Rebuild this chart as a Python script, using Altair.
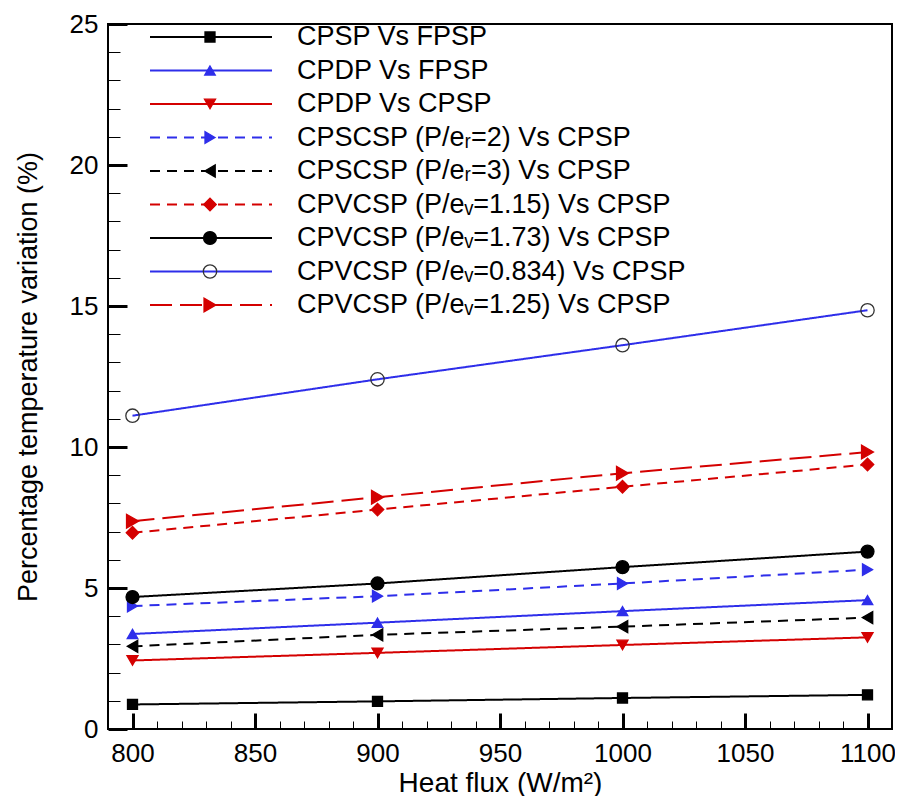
import altair as alt
import pandas as pd

# ---------------- data ----------------
heat_flux = [800, 900, 1000, 1100]

series_names = [
    "CPSP Vs FPSP",
    "CPDP Vs FPSP",
    "CPDP Vs CPSP",
    "CPSCSP (P/eᵣ=2) Vs CPSP",
    "CPSCSP (P/eᵣ=3) Vs CPSP",
    "CPVCSP (P/eᵥ=1.15) Vs CPSP",
    "CPVCSP (P/eᵥ=1.73) Vs CPSP",
    "CPVCSP (P/eᵥ=0.834) Vs CPSP",
    "CPVCSP (P/eᵥ=1.25) Vs CPSP",
]

cpsp_vs_fpsp = [0.87, 0.98, 1.10, 1.21]
cpdp_vs_fpsp = [3.37, 3.77, 4.18, 4.57]
cpdp_vs_cpsp = [2.43, 2.70, 2.98, 3.25]
cpscsp_r2_vs_cpsp = [4.36, 4.71, 5.16, 5.65]
cpscsp_r3_vs_cpsp = [2.93, 3.34, 3.63, 3.95]
cpvcsp_115_vs_cpsp = [6.96, 7.78, 8.59, 9.38]
cpvcsp_173_vs_cpsp = [4.68, 5.16, 5.74, 6.29]
cpvcsp_0834_vs_cpsp = [11.11, 12.40, 13.61, 14.85]
cpvcsp_125_vs_cpsp = [7.37, 8.22, 9.07, 9.82]

all_values = [
    cpsp_vs_fpsp, cpdp_vs_fpsp, cpdp_vs_cpsp, cpscsp_r2_vs_cpsp,
    cpscsp_r3_vs_cpsp, cpvcsp_115_vs_cpsp, cpvcsp_173_vs_cpsp,
    cpvcsp_0834_vs_cpsp, cpvcsp_125_vs_cpsp,
]

y_major = [0, 5, 10, 15, 20, 25]
y_minor = [v for v in range(0, 26) if v % 5 != 0]
x_major = [800, 850, 900, 950, 1000, 1050, 1100]
x_minor = [v for v in range(800, 1101, 10) if v % 50 != 0]

# ---------------- styles ----------------
BLK = "#000000"
BLU = "#2e2eea"
RED = "#d40000"
line_colors = [BLK, BLU, RED, BLU, BLK, RED, BLK, BLU, RED]
line_dashes = [[1, 0], [1, 0], [1, 0], [10, 7], [10, 7], [10, 7], [1, 0], [1, 0], [22, 8]]
shapes = ["square", "triangle-up", "triangle-down", "triangle-right", "triangle-left",
          "diamond", "circle", "circle", "triangle-right"]
fills = [BLK, BLU, RED, BLU, BLK, RED, BLK, "transparent", RED]
strokes = [BLK, BLU, RED, BLU, BLK, RED, BLK, "#333333", RED]
sizes = [100, 190, 190, 190, 190, 160, 230, 170, 190]

rows = []
for name, vals in zip(series_names, all_values):
    for hf, v in zip(heat_flux, vals):
        rows.append({"series": name, "flux": hf, "value": v})
df = pd.DataFrame(rows)
legend_df = pd.DataFrame({"series": series_names})

FONT = "Liberation Sans"

xs = alt.Scale(domain=[790, 1110], nice=False, zero=False)
ys = alt.Scale(domain=[0, 25], nice=False, zero=False)

color_enc = alt.Color("series:N", scale=alt.Scale(domain=series_names, range=line_colors), legend=None)
dash_enc = alt.StrokeDash("series:N", scale=alt.Scale(domain=series_names, range=line_dashes), legend=None)
shape_enc = alt.Shape("series:N", scale=alt.Scale(domain=series_names, range=shapes), legend=None)
fill_enc = alt.Fill("series:N", scale=alt.Scale(domain=series_names, range=fills), legend=None)
stroke_enc = alt.Stroke("series:N", scale=alt.Scale(domain=series_names, range=strokes), legend=None)
size_enc = alt.Size("series:N", scale=alt.Scale(domain=series_names, range=sizes), legend=None)

lines = alt.Chart(df).mark_line(strokeWidth=2).encode(
    x=alt.X("flux:Q", scale=xs, axis=alt.Axis(
        orient="bottom", values=x_major, offset=-16, tickSize=16, tickWidth=3,
        labelPadding=11, title="Heat flux (W/m²)", titlePadding=3, titleFontSize=28,
        format="d")),
    y=alt.Y("value:Q", scale=ys, axis=alt.Axis(
        orient="left", values=y_major, offset=-19, tickSize=19, tickWidth=3,
        labelPadding=10, title="Percentage temperature variation (%)", titlePadding=27,
        titleFontSize=27)),
    color=color_enc,
    strokeDash=dash_enc,
    detail="series:N",
)

points = alt.Chart(df).mark_point(filled=True, opacity=1, strokeWidth=1.3).encode(
    x=alt.X("flux:Q", scale=xs, axis=alt.Axis(
        orient="bottom", values=x_minor, offset=-8, tickSize=8, tickWidth=1,
        labels=False, title=None)),
    y=alt.Y("value:Q", scale=ys, axis=alt.Axis(
        orient="left", values=y_minor, offset=-12, tickSize=12, tickWidth=1,
        labels=False, title=None)),
    shape=shape_enc,
    fill=fill_enc,
    stroke=stroke_enc,
    size=size_enc,
)

ly = alt.Y("series:N", sort=series_names, axis=None,
           scale=alt.Scale(type="point", domain=series_names, range=[13, 281], padding=0))

leg_rule = alt.Chart(legend_df).mark_rule(strokeWidth=2).encode(
    x=alt.value(42), x2=alt.value(164), y=ly, color=color_enc, strokeDash=dash_enc)
leg_pts = alt.Chart(legend_df).mark_point(filled=True, opacity=1, strokeWidth=1.3).encode(
    x=alt.value(102), y=ly, shape=shape_enc, fill=fill_enc, stroke=stroke_enc, size=size_enc)
leg_txt = alt.Chart(legend_df).mark_text(
    align="left", baseline="middle", fontSize=27, font=FONT, color="black").encode(
    x=alt.value(189), y=ly, text="series:N")

chart = alt.layer(lines, points, leg_rule, leg_pts, leg_txt).resolve_scale(
    x="independent", y="independent"
).properties(
    width=784, height=705,
    autosize=alt.AutoSizeParams(type="none"),
    padding={"left": 100, "top": 16, "right": 3, "bottom": 67},
).configure_view(
    stroke="black", strokeWidth=2
).configure_axis(
    grid=False, domain=False, tickColor="black",
    labelFont=FONT, labelFontSize=26, labelColor="black",
    titleFont=FONT, titleFontSize=26, titleFontWeight="normal", titleColor="black",
)

chart.save("out.html", embed_options={"renderer": "svg", "actions": False})
